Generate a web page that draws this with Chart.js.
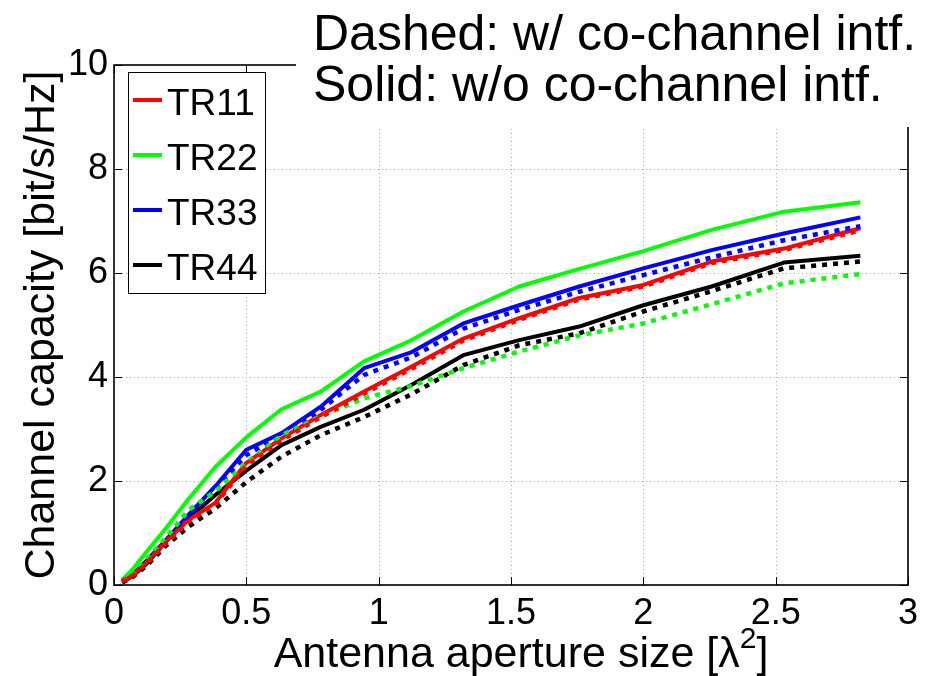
<!DOCTYPE html>
<html><head><meta charset="utf-8">
<script src="https://cdn.jsdelivr.net/npm/chart.js@4.4.0/dist/chart.umd.min.js"></script>
<style>html,body{margin:0;padding:0;background:#fff;}canvas{display:block;}</style>
</head><body>
<canvas id="c" width="932" height="676"></canvas>
<script>
const FONT = "'Liberation Sans', Arial, Helvetica, sans-serif";

// Antenna aperture size [lambda^2]
const apertureSize = [0.031, 0.070, 0.125, 0.195, 0.281, 0.383, 0.5, 0.633, 0.781, 0.945, 1.125, 1.320, 1.531, 1.758, 2.0, 2.258, 2.531, 2.820];

// Channel capacity [bit/s/Hz], solid = without co-channel interference
const tr11Solid = [0.07, 0.18, 0.45, 0.83, 1.25, 1.58, 2.35, 2.82, 3.27, 3.72, 4.20, 4.74, 5.13, 5.52, 5.77, 6.22, 6.47, 6.86];
const tr22Solid = [0.10, 0.30, 0.65, 1.08, 1.65, 2.27, 2.84, 3.38, 3.72, 4.30, 4.71, 5.26, 5.74, 6.08, 6.42, 6.83, 7.18, 7.36];
const tr33Solid = [0.08, 0.20, 0.48, 0.86, 1.35, 1.90, 2.60, 2.92, 3.43, 4.17, 4.48, 5.03, 5.38, 5.74, 6.09, 6.44, 6.76, 7.07];
const tr44Solid = [0.05, 0.17, 0.42, 0.83, 1.28, 1.73, 2.20, 2.69, 3.04, 3.37, 3.85, 4.42, 4.71, 4.97, 5.38, 5.74, 6.20, 6.33];

// dashed = with co-channel interference
const tr11Dashed = [0.07, 0.17, 0.43, 0.80, 1.22, 1.55, 2.30, 2.78, 3.23, 3.68, 4.16, 4.70, 5.10, 5.49, 5.74, 6.19, 6.44, 6.82];
const tr22Dashed = [0.08, 0.20, 0.50, 0.90, 1.44, 1.80, 2.35, 2.88, 3.24, 3.59, 3.83, 4.17, 4.49, 4.80, 5.03, 5.40, 5.80, 5.98];
const tr33Dashed = [0.08, 0.19, 0.46, 0.84, 1.32, 1.85, 2.50, 2.88, 3.37, 4.04, 4.38, 4.93, 5.29, 5.64, 5.96, 6.30, 6.63, 6.90];
const tr44Dashed = [0.05, 0.15, 0.38, 0.75, 1.12, 1.47, 1.98, 2.47, 2.88, 3.23, 3.67, 4.23, 4.61, 4.84, 5.26, 5.65, 6.09, 6.22];

const seriesNames = ['TR11', 'TR22', 'TR33', 'TR44'];
const seriesColors = ['#ff0000', '#00ff00', '#0000ff', '#000000'];
const xTickValues = [0, 0.5, 1, 1.5, 2, 2.5, 3];
const yTickValues = [0, 2, 4, 6, 8, 10];
const noteLines = ['Dashed: w/ co-channel intf.', 'Solid: w/o co-channel intf.'];
const xTitleParts = ['Antenna aperture size [\u03BB', '2', ']'];
const yTitle = 'Channel capacity [bit/s/Hz]';

const solidSeries = [tr11Solid, tr22Solid, tr33Solid, tr44Solid];
const dashedSeries = [tr11Dashed, tr22Dashed, tr33Dashed, tr44Dashed];
const toPoints = ys => apertureSize.map((x, i) => ({x: x, y: ys[i]}));

const datasets = [];
dashedSeries.forEach((ys, i) => datasets.push({
  label: seriesNames[i] + ' (dashed)', data: toPoints(ys), borderColor: seriesColors[i],
  borderWidth: 4.5, borderDash: [5, 6], borderCapStyle: 'butt', pointRadius: 0, fill: false, tension: 0
}));
solidSeries.forEach((ys, i) => datasets.push({
  label: seriesNames[i], data: toPoints(ys), borderColor: seriesColors[i],
  borderWidth: 4, pointRadius: 0, fill: false, tension: 0, borderJoinStyle: 'round'
}));

const gridPlugin = {
  id: 'matlabGrid',
  beforeDatasetsDraw(chart) {
    const {ctx, chartArea: a, scales: {x, y}} = chart;
    ctx.save();
    ctx.strokeStyle = '#a8a8a8';
    ctx.lineWidth = 1;
    ctx.setLineDash([1, 3]);
    xTickValues.forEach(v => {
      const px = Math.round(x.getPixelForValue(v)) + 0.5;
      ctx.beginPath(); ctx.moveTo(px, a.top); ctx.lineTo(px, a.bottom); ctx.stroke();
    });
    yTickValues.forEach(v => {
      const py = Math.round(y.getPixelForValue(v)) + 0.5;
      ctx.beginPath(); ctx.moveTo(a.left, py); ctx.lineTo(a.right, py); ctx.stroke();
    });
    ctx.restore();
  }
};

const framePlugin = {
  id: 'matlabFrame',
  afterDatasetsDraw(chart) {
    const {ctx, chartArea: a, scales: {x, y}} = chart;
    ctx.save();
    // tick marks (inward)
    ctx.strokeStyle = '#000'; ctx.lineWidth = 1; ctx.setLineDash([]);
    const tl = 8;
    xTickValues.forEach(v => {
      const px = Math.round(x.getPixelForValue(v)) + 0.5;
      ctx.beginPath(); ctx.moveTo(px, a.bottom); ctx.lineTo(px, a.bottom - tl); ctx.stroke();
      ctx.beginPath(); ctx.moveTo(px, a.top); ctx.lineTo(px, a.top + tl); ctx.stroke();
    });
    yTickValues.forEach(v => {
      const py = Math.round(y.getPixelForValue(v)) + 0.5;
      ctx.beginPath(); ctx.moveTo(a.left, py); ctx.lineTo(a.left + tl, py); ctx.stroke();
      ctx.beginPath(); ctx.moveTo(a.right, py); ctx.lineTo(a.right - tl, py); ctx.stroke();
    });
    // box
    ctx.lineWidth = 1.6;
    ctx.strokeRect(a.left, a.top, a.right - a.left, a.bottom - a.top);

    // legend
    const lx = 128.5, ly = 72.5, lw = 137, lh = 221;
    ctx.fillStyle = '#fff'; ctx.fillRect(lx, ly, lw, lh);
    ctx.lineWidth = 1; ctx.strokeStyle = '#000'; ctx.strokeRect(lx, ly, lw, lh);
    ctx.font = '37px ' + FONT; ctx.textBaseline = 'alphabetic'; ctx.textAlign = 'left';
    seriesNames.forEach((name, i) => {
      const cy = 100 + i * 55;
      ctx.strokeStyle = seriesColors[i]; ctx.lineWidth = 4;
      ctx.beginPath(); ctx.moveTo(133, cy); ctx.lineTo(162, cy); ctx.stroke();
      ctx.fillStyle = '#000';
      ctx.fillText(name, 167, cy + 15);
    });

    // annotation box
    ctx.fillStyle = '#fff';
    ctx.fillRect(296, 0, chart.width - 296, 127);
    ctx.fillStyle = '#000';
    ctx.font = '50px ' + FONT;
    ctx.fillText(noteLines[0], 313, 50);
    ctx.fillText(noteLines[1], 313, 101);

    // x-axis title with superscript
    const bigF = '43px ' + FONT, supF = '30px ' + FONT;
    ctx.font = bigF; const w0 = ctx.measureText(xTitleParts[0]).width;
    const w2 = ctx.measureText(xTitleParts[2]).width;
    ctx.font = supF; const w1 = ctx.measureText(xTitleParts[1]).width;
    const total = w0 + w1 + w2;
    let sx = (a.left + a.right) / 2 + 10 - total / 2;
    const base = 667;
    ctx.font = bigF; ctx.fillText(xTitleParts[0], sx, base); sx += w0;
    ctx.font = supF; ctx.fillText(xTitleParts[1], sx, base - 19); sx += w1;
    ctx.font = bigF; ctx.fillText(xTitleParts[2], sx, base);
    ctx.restore();
  }
};

new Chart(document.getElementById('c'), {
  type: 'line',
  data: {datasets: datasets},
  options: {
    responsive: false, animation: false, devicePixelRatio: 1,
    layout: {padding: {top: 65, right: 24, left: 0, bottom: 0}},
    plugins: {legend: {display: false}, tooltip: {enabled: false}},
    scales: {
      x: {
        type: 'linear', min: 0, max: 3,
        afterBuildTicks: s => { s.ticks = xTickValues.map(v => ({value: v})); },
        afterFit: s => { s.height = 91; },
        ticks: {font: {family: FONT, size: 36}, color: '#000', padding: 7, maxRotation: 0, autoSkip: false, callback: v => String(v)},
        grid: {display: false, drawTicks: false},
        border: {display: false}
      },
      y: {
        type: 'linear', min: 0, max: 10,
        afterBuildTicks: s => { s.ticks = yTickValues.map(v => ({value: v})); },
        afterFit: s => { s.width = 114; },
        ticks: {font: {family: FONT, size: 36}, color: '#000', padding: 6, autoSkip: false, callback: v => String(v)},
        grid: {display: false, drawTicks: false},
        border: {display: false},
        title: {display: true, text: yTitle, color: '#000', font: {family: FONT, size: 43}, padding: {top: 16, bottom: 0}}
      }
    }
  },
  plugins: [gridPlugin, framePlugin]
});
</script>
</body></html>
